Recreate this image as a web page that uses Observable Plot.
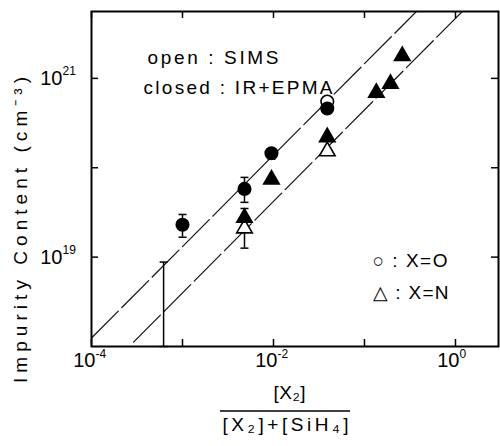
<!DOCTYPE html>
<html><head><meta charset="utf-8">
<script src="https://cdn.jsdelivr.net/npm/d3@7"></script>
<script src="https://cdn.jsdelivr.net/npm/@observablehq/plot@0.6"></script>
<style>body{margin:0;background:#fff}</style>
</head><body>
<div id="chart"></div>
<script>
// ---- data ----
const circFilledX = [1.0e-3, 4.8e-3, 9.5e-3, 3.9e-2];
const circFilledY = [2.3e19, 5.8e19, 1.45e20, 4.6e20];
const circOpenX = [3.9e-2];
const circOpenY = [5.5e20];
const triFilledX = [4.8e-3, 9.5e-3, 3.9e-2, 0.135, 0.193, 0.26];
const triFilledY = [2.75e19, 7.4e19, 2.2e20, 6.9e20, 8.7e20, 1.78e21];
const triOpenX = [4.8e-3, 3.9e-2];
const triOpenY = [2.1e19, 1.53e20];

const errX  = [6.2e-4, 1.0e-3, 4.8e-3, 4.8e-3, 9.5e-3];
const errLo = [1.0e18, 1.67e19, 4.1e19, 1.26e19, 1.25e20];
const errHi = [8.8e18, 3.0e19, 7.8e19, 3.5e19, 1.6e20];

const fitUpperX = [1e-4, 0.382];
const fitUpperY = [1.245e18, 5.75e21];
const fitLowerX = [2.9e-4, 1.22];
const fitLowerY = [1.12e18, 5.75e21];

const xTicks = [1e-4, 1e-3, 1e-2, 1e-1, 1];
const xLabelTicks = [1e-4, 1e-2, 1];
const xLabelExps = ["-4", "-2", "0"];
const yTicks = [1e19, 1e20, 1e21];
const yLabelTicks = [1e19, 1e21];
const yLabelExps = ["19", "21"];

const legendTop = ["open : SIMS", "closed : IR+EPMA"];
const legendSym = ["○ : X=O", "△ : X=N"];
const yTitle = "Impurity Content (cm⁻³)";
const xNum = "[X₂]";
const xDen = "[X₂]+[SiH₄]";

// ---- tables ----
const zip = (xs, ys) => xs.map((x, i) => ({x, y: ys[i]}));
const circFilled = zip(circFilledX, circFilledY);
const circOpen = zip(circOpenX, circOpenY);
const triFilled = zip(triFilledX, triFilledY);
const triOpen = zip(triOpenX, triOpenY);
const errs = errX.map((x, i) => ({x, lo: errLo[i], hi: errHi[i]}));
const upper = zip(fitUpperX, fitUpperY);
const lower = zip(fitLowerX, fitLowerY);
const xLab = xLabelTicks.map((v, i) => ({v, e: xLabelExps[i]}));
const yLab = yLabelTicks.map((v, i) => ({v, e: yLabelExps[i]}));

const capSymbol = {draw(ctx, size) { const w = Math.sqrt(size / Math.PI); ctx.moveTo(-w, 0); ctx.lineTo(w, 0); }};

const W = 500, H = 446, mL = 91, mR = 2, mT = 11, mB = 100;
const pw = W - mL - mR, ph = H - mT - mB;
const tk = 7;

const svg = Plot.plot({
  width: W, height: H,
  marginLeft: mL, marginRight: mR, marginTop: mT, marginBottom: mB,
  style: {fontFamily: "Liberation Sans, Arial, sans-serif", fontSize: "18px", background: "white", color: "black", overflow: "visible"},
  x: {type: "log", domain: [1e-4, 2.97], axis: null},
  y: {type: "log", domain: [1e18, 5.6e21], axis: null},
  marks: [
    Plot.line(upper, {x: "x", y: "y", stroke: "#111", strokeWidth: 1.2, strokeDasharray: "38,5", clip: true}),
    Plot.line(lower, {x: "x", y: "y", stroke: "#111", strokeWidth: 1.2, strokeDasharray: "38,5", clip: true}),
    Plot.ruleX(errs, {x: "x", y1: "lo", y2: "hi", stroke: "black", strokeWidth: 1.5}),
    Plot.dot(errs, {x: "x", y: "hi", symbol: capSymbol, r: 4, stroke: "black", strokeWidth: 1.5, fill: "none"}),
    Plot.dot(errs, {x: "x", y: "lo", symbol: capSymbol, r: 4, stroke: "black", strokeWidth: 1.5, fill: "none"}),
    Plot.dot(circOpen, {x: "x", y: "y", r: 6.3, fill: "white", stroke: "black", strokeWidth: 1.6}),
    Plot.dot(circFilled, {x: "x", y: "y", r: 6.3, fill: "black", stroke: "black"}),
    Plot.dot(triOpen, {x: "x", y: "y", symbol: "triangle", r: 5.8, fill: "white", stroke: "black", strokeWidth: 1.6}),
    Plot.dot(triFilled, {x: "x", y: "y", symbol: "triangle", r: 5.8, fill: "black", stroke: "black"}),
    // inward ticks
    Plot.tickX(xTicks, {x: d => d, insetTop: ph - tk, stroke: "black", strokeWidth: 1.5}),
    Plot.tickX(xTicks, {x: d => d, insetBottom: ph - tk, stroke: "black", strokeWidth: 1.5}),
    Plot.tickY(yTicks, {y: d => d, insetRight: pw - tk, stroke: "black", strokeWidth: 1.5}),
    Plot.tickY(yTicks, {y: d => d, insetLeft: pw - tk, stroke: "black", strokeWidth: 1.5}),
    Plot.frame({stroke: "black", strokeWidth: 2}),
    // tick labels
    Plot.text(xLab, {x: "v", frameAnchor: "bottom", dx: 4, dy: 20, text: () => "10", textAnchor: "end", fontSize: 20}),
    Plot.text(xLab, {x: "v", frameAnchor: "bottom", dx: 4, dy: 11, text: "e", textAnchor: "start", fontSize: 12}),
    Plot.text(yLab, {y: "v", frameAnchor: "left", dx: -29, dy: 0, text: () => "10", textAnchor: "end", fontSize: 20}),
    Plot.text(yLab, {y: "v", frameAnchor: "left", dx: -29, dy: -7, text: "e", textAnchor: "start", fontSize: 12}),
    // legend annotations
    Plot.text([legendTop[0]], {frameAnchor: "top-left", dx: 56, dy: 39, text: d => d, textAnchor: "start", fontSize: 19}),
    Plot.text([legendTop[1]], {frameAnchor: "top-left", dx: 52, dy: 69, text: d => d, textAnchor: "start", fontSize: 19}),
    Plot.text([legendSym[0]], {frameAnchor: "top-left", dx: 281, dy: 242, text: d => d, textAnchor: "start", fontSize: 19}),
    Plot.text([legendSym[1]], {frameAnchor: "top-left", dx: 281, dy: 274, text: d => d, textAnchor: "start", fontSize: 19}),
    // axis titles
    Plot.text([yTitle], {frameAnchor: "left", rotate: -90, dx: -71, dy: 204, text: d => d, textAnchor: "start", fontSize: 19}),
    Plot.text([xNum], {frameAnchor: "bottom", dx: -5.5, dy: 52, text: d => d, fontSize: 19}),
    Plot.text([xDen], {frameAnchor: "bottom", dx: -9.5, dy: 84, text: d => d, fontSize: 19})
  ]
});
document.getElementById("chart").appendChild(svg);

const lengths = new Map([
  [legendTop[0], 131], [legendTop[1], 189],
  [legendSym[0], 75], [legendSym[1], 76],
  [yTitle, 306], [xNum, 32], [xDen, 126]
]);
d3.select(svg).selectAll("text").each(function() {
  const L = lengths.get(this.textContent);
  if (L) d3.select(this).attr("textLength", L).attr("lengthAdjust", "spacing");
});
d3.select(svg).append("line")
  .attr("x1", 220).attr("x2", 350).attr("y1", 411).attr("y2", 411)
  .attr("stroke", "black").attr("stroke-width", 1.6);
</script>
</body></html>
